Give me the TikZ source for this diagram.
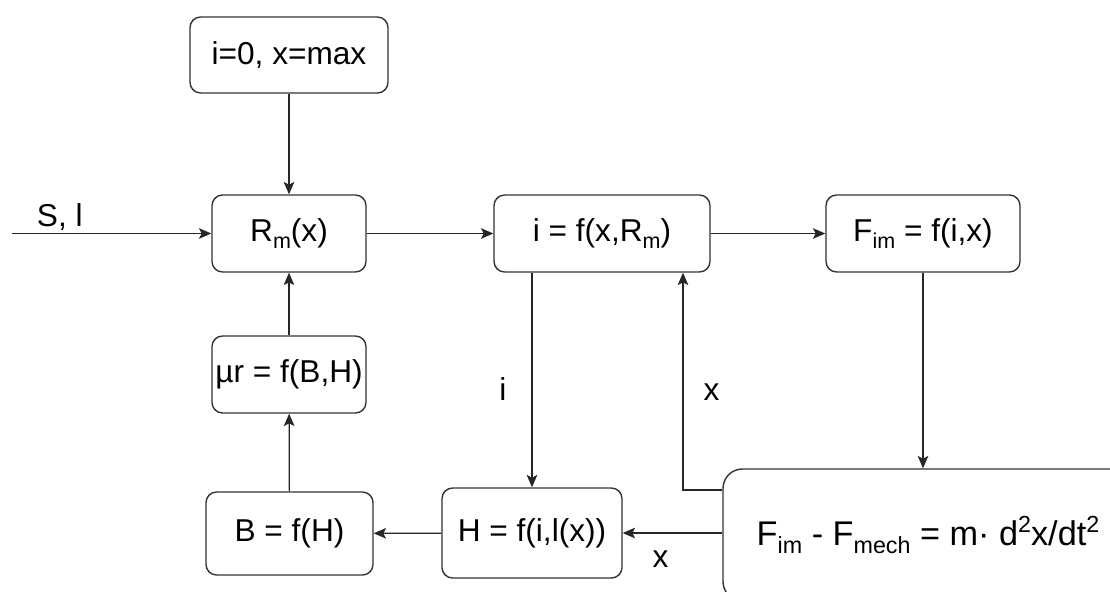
\documentclass[tikz,border=0pt]{standalone}
\usepackage{fontspec}
\setmainfont{Liberation Sans}
\usetikzlibrary{arrows.meta,positioning}

\makeatletter
\newcommand\lowtext[1]{\raisebox{-0.24em}{\fontsize{\strip@pt\dimexpr\f@size pt*68/100\relax}{1}\selectfont #1}}
\newcommand\hightext[1]{\raisebox{0.36em}{\fontsize{\strip@pt\dimexpr\f@size pt*68/100\relax}{1}\selectfont #1}}
\makeatother

\begin{document}
\begin{tikzpicture}[
    x=0.02cm, y=-0.02cm,
    block/.style={rectangle, draw=black!80, line width=0.8pt, rounded corners=6pt, fill=white, inner sep=0pt, font=\fontsize{18}{22}\selectfont, align=center},
    arrow/.style={-{Stealth[length=7pt,width=6pt,inset=1.5pt]}, line width=0.7pt, draw=black!85},
    sig/.style={font=\fontsize{18}{22}\selectfont, inner sep=0pt}
]
    \useasboundingbox (0,0) rectangle (1110,592);
    \clip (0,0) rectangle (1110,592);

    % Upper row
    \node[block, minimum width=3.96cm, minimum height=1.52cm] (init) at (289,55) {i=0, x=max};
    \node[block, minimum width=3.08cm, minimum height=1.54cm] (rm) at (289,233.5) {R\lowtext{m}(x)};
    \node[block, minimum width=4.32cm, minimum height=1.54cm] (ifx) at (602,233.5) {i = f(x,R\lowtext{m})};
    \node[block, minimum width=3.88cm, minimum height=1.54cm] (fim) at (923,233.5) {F\lowtext{im} = f(i,x)};

    % Lower part
    \node[block, minimum width=3.08cm, minimum height=1.54cm] (mur) at (289,374.5) {µr = f(B,H)};
    \node[block, minimum width=3.34cm, minimum height=1.66cm] (bh) at (289.5,533.5) {B = f(H)};
    \node[block, minimum width=3.6cm, minimum height=1.8cm] (hix) at (532,533) {H = f(i,l(x))};
    \node[block, rounded corners=11pt, minimum width=8.2cm, minimum height=2.64cm, font=\fontsize{19.5}{23}\selectfont] (motion) at (928,535) {F\lowtext{im} - F\lowtext{mech} = m· d\hightext{2}x/dt\hightext{2}};

    \coordinate (src) at (12,233.5);
    \coordinate (fb) at (683,490);

    % Arrows
    \draw[arrow] (src) -- node[sig, above=0.04cm, pos=0.24] {S, l} (rm);
    \draw[arrow] (init) -- (rm);
    \draw[arrow] (rm) -- (ifx);
    \draw[arrow] (ifx) -- (fim);
    \draw[arrow] (fim) -- (fim |- motion.north);
    \draw[arrow] (motion.west |- fb) -- (fb) -- node[sig, right=0.4cm, pos=0.45] {x} (fb |- ifx.south);
    \draw[arrow] (ifx.south -| hix.north) -- node[sig, left=0.5cm, pos=0.54] {i} (hix.north);
    \draw[arrow] (motion.west |- hix) -- node[sig, below=0.34cm, pos=0.62] {x} (hix);
    \draw[arrow] (hix) -- (bh);
    \draw[arrow] (bh) -- (mur);
    \draw[arrow] (mur) -- (rm);
\end{tikzpicture}
\end{document}
